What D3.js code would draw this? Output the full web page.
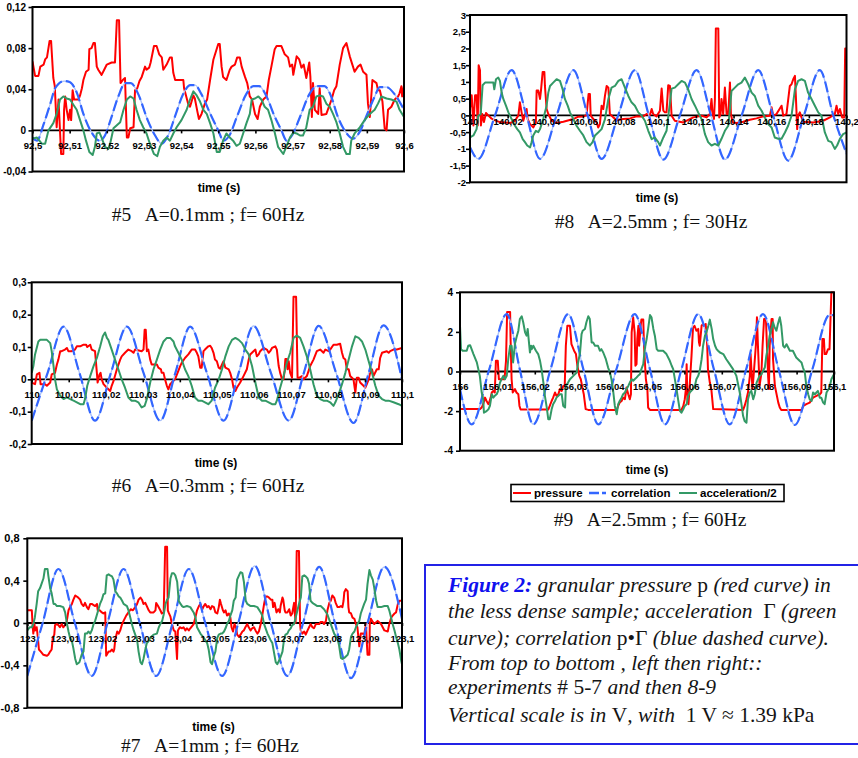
<!DOCTYPE html>
<html>
<head>
<meta charset="utf-8">
<script src="https://cdn.jsdelivr.net/npm/d3@7"></script>
<style>
  html, body { margin: 0; padding: 0; background: #fff; }
  svg { display: block; }
  text { white-space: pre; }
</style>
</head>
<body>
<svg id="fig" width="858" height="758"></svg>
<script>
// Each series point: [milliseconds after the window start, volts]

// ---------- #5  A=0.1mm ; f=60Hz  (92,5 s .. 92,6 s) ----------
const xLabels5 = ["92,5","92,51","92,52","92,53","92,54","92,55","92,56","92,57","92,58","92,59","92,6"];
const yTicks5 = [-0.04, 0, 0.04, 0.08, 0.12];
const yLabels5 = ["-0,04","0","0,04","0,08","0,12"];
const pressure5 = [[0,0.067],[0.7,0.053],[1.6,0.053],[2.1,0.062],[3.0,0.064],[3.4,0.069],[3.9,0.071],[4.6,0.087],[5.0,0.087],[5.2,0.075],[5.6,0.051],[6.0,0.043],[6.5,0.003],[7.0,0.030],[7.7,-0.023],[8.3,-0.023],[8.5,0.020],[8.8,0.033],[9.2,0.020],[9.7,0.010],[10.1,0.020],[10.4,0.010],[10.8,0.039],[11.2,0.030],[12.4,0.030],[12.8,0.034],[13.3,0.041],[13.7,0.049],[14.4,0.057],[15.1,0.059],[15.3,0.079],[15.9,0.080],[16.4,0.085],[16.8,0.085],[17.3,0.062],[17.7,0.059],[18.6,0.054],[19.3,0.059],[20.0,0.064],[21.3,0.066],[22.2,0.066],[22.7,0.107],[23.3,0.107],[23.7,0.046],[24.3,0.049],[24.9,0.051],[25.4,-0.007],[25.8,-0.007],[26.3,0.002],[27.2,0.003],[27.6,0.039],[28.2,0.041],[28.8,0.048],[29.4,0.052],[30.3,0.062],[30.7,0.059],[31.4,0.061],[31.8,0.066],[32.7,0.082],[33.4,0.082],[34.1,0.074],[34.8,0.071],[35.2,0.059],[36.1,0.064],[37.0,0.071],[37.5,0.071],[37.9,0.056],[38.4,0.049],[40.6,0.049],[40.8,0.041],[41.9,0.026],[42.4,0.023],[43.3,0.034],[43.7,0.031],[44.4,0.018],[44.8,0.011],[45.5,0.016],[46.4,0.026],[47.0,0.030],[47.8,0.049],[48.7,0.069],[50.0,0.084],[50.4,0.084],[50.9,0.062],[51.3,0.052],[52.2,0.049],[53.1,0.059],[53.6,0.062],[54.5,0.064],[55.1,0.071],[55.8,0.071],[56.3,0.062],[57.2,0.052],[57.8,0.046],[58.5,0.033],[59.1,0.030],[59.9,0.016],[60.6,0.011],[61.2,0.023],[62.1,0.030],[63.0,0.033],[63.6,0.049],[64.3,0.062],[65.2,0.079],[65.7,0.082],[67.0,0.082],[67.9,0.074],[68.8,0.071],[69.3,0.062],[69.9,0.064],[70.2,0.054],[70.6,0.062],[71.1,0.072],[71.8,0.069],[72.4,0.061],[73.0,0.064],[73.7,0.051],[74.5,0.066],[74.8,0.052],[75.2,0.013],[75.5,0.046],[76.0,0.020],[76.9,0.016],[77.3,0.041],[77.8,0.015],[79.1,0.016],[80.5,0.030],[81.2,0.039],[81.8,0.043],[82.7,0.064],[83.6,0.080],[84.5,0.085],[85.4,0.072],[86.1,0.064],[86.7,0.057],[87.6,0.062],[88.3,0.064],[89.0,0.057],[89.9,0.054],[90.3,0.026],[90.8,0.013],[91.5,0.049],[92.6,0.046],[93.0,0.039],[93.5,0.039],[94.2,0.028],[94.8,0.002],[95.3,0.0],[95.7,0.020],[96.6,0.023],[97.5,0.030],[98.4,0.033],[98.8,0.036],[99.3,0.043],[99.5,0.033],[100,0.043]];
const correlation5 = [[0,-0.007],[1.2,-0.01],[3.0,0.006],[4.8,0.026],[6.1,0.041],[8.5,0.048],[10.0,0.047],[12.0,0.036],[13.7,0.016],[15.9,-0.002],[18.0,-0.01],[19.5,-0.005],[21.0,0.01],[23.0,0.032],[25.0,0.046],[26.5,0.046],[28.5,0.035],[31.0,0.01],[33.0,-0.005],[34.8,-0.013],[36.5,-0.005],[38.5,0.015],[40.5,0.035],[42.5,0.044],[43.8,0.044],[45.5,0.035],[48.0,0.015],[50.0,0.0],[51.4,-0.01],[53.0,-0.005],[55.0,0.013],[57.5,0.035],[59.5,0.043],[61.0,0.043],[63.0,0.033],[65.0,0.015],[67.0,0.0],[68.4,-0.01],[70.0,-0.004],[72.0,0.013],[74.5,0.035],[76.5,0.043],[78.6,0.043],[80.5,0.032],[82.0,0.015],[84.0,0.0],[86.3,-0.008],[88.0,-0.002],[90.0,0.015],[92.0,0.032],[93.5,0.042],[95.3,0.042],[97.5,0.035],[100,0.02]];
const acceleration5 = [[0,-0.008],[1.2,-0.007],[2.5,-0.013],[3.4,-0.013],[4.3,0],[5.6,0.007],[6.5,0.016],[7.4,0.030],[8.3,0.033],[9.2,0.031],[10.1,0.030],[11.0,0.025],[11.9,0.020],[12.8,0.010],[13.7,0],[14.4,-0.010],[15.3,-0.021],[16.2,-0.024],[16.8,-0.016],[17.3,-0.003],[18.0,-0.002],[18.6,-0.007],[19.5,-0.016],[20.4,-0.018],[20.9,-0.013],[21.8,0.002],[22.7,0.005],[23.6,0.008],[24.5,0.020],[25.4,0.030],[26.3,0.033],[27.2,0.031],[28.0,0.020],[28.9,0.010],[29.8,0.003],[30.7,-0.003],[31.6,-0.013],[32.7,-0.023],[33.6,-0.025],[34.3,-0.016],[35.2,-0.010],[36.1,-0.007],[37.0,-0.010],[37.9,-0.003],[38.8,0.003],[40.1,0.010],[41.5,0.020],[42.4,0.030],[43.3,0.038],[44.2,0.034],[45.1,0.028],[46.0,0.020],[46.9,0.016],[47.8,0.007],[48.7,-0.003],[49.6,-0.021],[50.4,-0.021],[51.3,-0.010],[52.2,-0.003],[53.1,-0.007],[54.0,-0.010],[54.9,-0.015],[55.8,-0.013],[56.7,-0.003],[57.6,0.007],[58.5,0.016],[59.0,0.030],[59.9,0.031],[60.8,0.033],[61.6,0.030],[62.5,0.023],[63.4,0.020],[64.3,0.010],[65.2,-0.002],[66.1,-0.016],[67.5,-0.023],[68.4,-0.015],[69.3,-0.007],[70.2,-0.002],[71.1,-0.003],[72.0,-0.005],[72.8,-0.005],[73.7,0.003],[74.6,0.020],[75.5,0.023],[76.4,0.033],[77.3,0.034],[78.2,0.033],[79.1,0.026],[80.0,0.023],[80.9,0.016],[81.8,0.008],[82.7,-0.003],[83.6,-0.016],[84.5,-0.023],[85.4,-0.023],[85.8,-0.010],[86.7,-0.003],[88.1,0.003],[89.4,0.010],[90.8,0.016],[92.1,0.020],[93.0,0.026],[93.9,0.033],[95.3,0.031],[96.6,0.030],[98.0,0.028],[98.8,0.020],[100,0.013]];

// ---------- #8  A=2.5mm ; f=30Hz  (140 s .. 140,2 s) ----------
const xLabels8 = ["140","140,02","140,04","140,06","140,08","140,1","140,12","140,14","140,16","140,18","140,2"];
const yTicks8 = [-2, -1.5, -1, -0.5, 0, 0.5, 1, 1.5, 2, 2.5, 3];
const yLabels8 = ["-2","-1,5","-1","-0,5","0","0,5","1","1,5","2","2,5","3"];
const pressure8 = [[0,0.2],[0.9,0.6],[1.8,-0.3],[2.7,0.6],[3.5,0.6],[4.1,-0.3],[4.6,1.5],[5.3,1.35],[5.8,-0.3],[6.5,0.04],[7.4,-0.2],[8.5,0.07],[9.7,0],[11.5,-0.1],[13.3,-0.15],[15.9,-0.2],[21.2,-0.23],[23.9,-0.16],[25.7,0],[26.5,0.39],[27.4,0.09],[28.3,-0.16],[30.1,0.19],[30.6,-0.11],[31.9,-0.26],[33.6,-0.36],[35.0,-0.21],[35.4,0.74],[36.3,0.74],[37.2,0.49],[37.7,0.74],[38.6,1.3],[39.5,1.3],[39.8,0.88],[40.7,0.19],[41.6,0.04],[43.4,-0.16],[46.0,-0.23],[49.6,-0.19],[54.9,-0.11],[57.5,-0.04],[60.2,-0.03],[61.9,0],[63.0,0.64],[63.7,0.64],[64.1,0],[65.5,-0.11],[67.3,-0.21],[68.1,-0.36],[69.0,-0.26],[69.9,0.29],[70.8,0.19],[71.7,0.59],[72.6,0.88],[73.5,0.83],[74.3,0.04],[76.1,-0.06],[77.9,-0.14],[81.4,-0.11],[85.0,-0.09],[88.5,-0.03],[92.0,-0.03],[93.8,0.04],[95.6,0.01],[96.5,0.19],[97.3,0.04],[99.1,-0.03],[100.9,0.14],[101.8,0.8],[102.7,0.14],[103.5,0.09],[104.4,0.09],[105.3,0.9],[106.2,0.88],[107.1,-0.01],[108.8,-0.16],[113.3,-0.21],[118.6,-0.06],[123.0,-0.01],[125.7,-0.06],[127.4,0.04],[128.3,0.49],[128.8,0.09],[129.6,-0.11],[130.1,0.49],[130.6,2.6],[131.9,2.6],[132.4,-0.06],[133.1,0.04],[133.6,0.49],[134.5,0.04],[135.4,0.83],[136.3,0.04],[137.2,0.04],[138.1,0.98],[138.6,0.04],[139.5,-0.21],[141.6,-0.23],[145.1,-0.19],[148.7,-0.13],[152.2,-0.09],[155.8,-0.03],[159.3,-0.01],[160.2,0.24],[161.1,-0.01],[162.8,0.04],[165.5,0.29],[166.4,-0.01],[168.1,0.04],[169.9,0.88],[170.8,0.93],[171.7,1.08],[172.6,1.18],[173.1,0.58],[173.8,-0.41],[174.3,-0.01],[175.2,0.09],[176.1,-0.06],[177.0,-0.19],[182.3,-0.21],[187.6,-0.16],[191.2,-0.06],[193.8,0.04],[194.7,0.29],[195.6,0.04],[196.5,0.19],[197.7,-0.06],[198.8,-0.06],[199.3,2.0],[200,2.0]];
const correlation8 = [[0,-0.95],[4.4,-1.3],[13.3,0],[22.1,1.35],[30,0],[37.2,-1.3],[46,0],[54.9,1.35],[62.5,0],[69.9,-1.3],[78.7,0],[87.6,1.35],[95,0],[102.7,-1.32],[111.5,0],[120.4,1.35],[128,0],[135.4,-1.32],[144.3,0],[153.1,1.35],[161,0],[169,-1.35],[177.4,0],[185.8,1.35],[193,0],[200,-1.15]];
const acceleration8 = [[0,-0.66],[1.8,-0.6],[3.5,-0.41],[4.4,-0.01],[5.7,0.04],[6.7,0.9],[8.0,0.98],[10.6,0.98],[12.4,0.98],[12.9,0.78],[13.8,1.08],[15.0,1.13],[15.9,1.03],[16.8,0.68],[17.7,0.49],[19.1,0.29],[20.4,0.09],[22.1,-0.11],[23.9,-0.31],[25.1,-0.41],[26.5,-0.51],[28.0,-0.71],[29.2,-0.8],[30.4,-0.9],[31.9,-0.96],[32.7,-0.8],[33.6,-0.6],[35.0,-0.46],[36.3,-0.5],[37.2,-0.41],[38.9,-0.11],[40.7,0.29],[41.6,0.68],[42.5,0.88],[44.2,0.98],[46.0,1.08],[47.8,1.03],[49.2,0.78],[50.4,0.49],[51.9,0.29],[53.1,0.09],[54.9,-0.11],[56.6,-0.31],[58.4,-0.46],[60.2,-0.6],[61.9,-0.8],[63.7,-0.9],[65.1,-0.8],[66.4,-0.6],[68.1,-0.51],[69.9,-0.41],[71.7,-0.11],[73.5,0.49],[75.2,0.83],[77.0,0.88],[78.8,1.03],[80.5,1.08],[82.3,0.83],[84.1,0.58],[85.8,0.39],[87.6,0.29],[89.4,0.09],[91.2,-0.01],[92.9,-0.16],[94.7,-0.46],[96.5,-0.71],[98.2,-0.66],[100.0,-0.8],[100.9,-0.9],[102.7,-0.66],[104.4,-0.46],[105.8,0.19],[107.1,0.8],[108.8,0.83],[110.6,0.93],[112.4,1.03],[114.2,0.98],[115.9,0.78],[117.7,0.49],[119.5,0.29],[121.2,0.09],[123.0,-0.11],[124.8,-0.56],[126.5,-0.8],[128.3,-0.9],[130.1,-0.85],[131.9,-0.9],[133.6,-0.7],[135.4,-0.46],[137.2,-0.31],[138.1,0.19],[138.9,0.73],[140.7,0.83],[142.5,0.93],[144.2,0.98],[146.0,1.13],[147.8,0.93],[149.6,0.68],[151.3,0.58],[153.1,0.29],[154.9,0.14],[156.6,-0.06],[158.4,-0.26],[160.2,-0.36],[161.9,-0.66],[163.7,-0.7],[165.5,-0.7],[167.3,-0.51],[169.0,-0.31],[170.8,-0.01],[172.6,0.78],[174.3,1.03],[176.1,1.08],[177.9,1.03],[179.6,0.68],[181.4,0.49],[183.2,0.29],[185.0,0.09],[186.7,-0.01],[188.5,-0.51],[190.3,-0.76],[192.0,-0.8],[193.8,-1.0],[195.0,-0.9],[196.5,-0.7],[198.2,-0.56],[200,-0.51]];

// ---------- #6  A=0.3mm ; f=60Hz  (110 s .. 110,1 s) ----------
const xLabels6 = ["110","110,01","110,02","110,03","110,04","110,05","110,06","110,07","110,08","110,09","110,1"];
const yTicks6 = [-0.2, -0.1, 0, 0.1, 0.2, 0.3];
const yLabels6 = ["-0,2","-0,1","0","0,1","0,2","0,3"];
const pressure6 = [[0,-0.01],[0.9,-0.015],[1.4,0.015],[2.1,0.02],[2.4,-0.015],[3.6,-0.015],[4.1,-0.02],[5.0,-0.01],[5.4,0.015],[6.3,0.02],[6.8,0.046],[7.2,0.061],[7.7,0.087],[8.1,0.087],[9.0,0.092],[9.5,0.097],[9.9,0.087],[10.8,0.087],[11.7,0.092],[12.2,0.102],[13.1,0.102],[14.0,0.107],[14.7,0.107],[15.0,0.10],[15.8,0.107],[16.2,0.092],[17.1,0.087],[17.6,0.02],[17.8,-0.01],[18.3,0.015],[18.6,0.02],[18.9,0.0],[19.4,-0.015],[20.3,-0.026],[21.2,-0.036],[21.6,-0.02],[22.1,-0.005],[23.0,0.031],[23.9,0.061],[24.3,0.071],[25.2,0.082],[26.1,0.092],[27.0,0.087],[27.5,0.082],[27.9,0.092],[29.7,0.087],[30.2,0.092],[30.5,0.153],[30.8,0.153],[31.1,0.087],[31.5,0.092],[32.0,0.061],[32.4,0.046],[33.8,0.046],[34.2,0.036],[34.9,0.031],[35.1,0.02],[35.6,0.02],[36.0,0.0],[36.5,-0.02],[36.9,-0.031],[37.4,-0.015],[37.8,-0.01],[38.7,0.0],[39.6,0.026],[40.1,0.041],[40.5,0.051],[41.4,0.066],[42.3,0.077],[43.2,0.092],[44.1,0.092],[44.6,0.082],[45.0,0.071],[45.5,0.036],[45.9,0.036],[46.4,0.087],[46.8,0.092],[47.7,0.102],[48.2,0.104],[48.6,0.097],[49.1,0.082],[49.5,0.061],[50.0,0.056],[50.5,0.036],[50.9,0.033],[51.4,0.046],[51.8,0.056],[52.3,0.036],[53.2,0.031],[53.6,0.02],[54.1,0.0],[54.5,-0.026],[55.0,-0.036],[55.4,-0.026],[56.3,-0.01],[57.2,0.01],[58.1,0.031],[58.6,0.061],[59.0,0.077],[59.9,0.087],[60.4,0.092],[60.8,0.071],[61.3,0.077],[61.7,0.087],[62.6,0.097],[63.5,0.092],[64.0,0.082],[64.4,0.087],[64.9,0.097],[65.8,0.102],[66.2,0.092],[66.7,0.041],[67.1,0.02],[67.6,0.0],[68.0,0.0],[68.3,0.026],[68.5,0.063],[68.9,0.063],[69.1,0.031],[69.4,0.056],[69.8,0.02],[70.3,0.005],[70.7,0.255],[71.4,0.255],[71.8,0.005],[72.3,0.005],[73.0,0.01],[73.4,0.0],[74.3,0.01],[75.2,0.041],[76.1,0.061],[77.0,0.087],[77.9,0.092],[78.8,0.082],[79.3,0.092],[80.2,0.087],[80.6,0.092],[81.5,0.107],[82.4,0.107],[83.3,0.11],[83.8,0.082],[84.2,0.066],[84.7,0.061],[85.1,0.031],[85.6,0.031],[86.0,0.01],[86.9,0.0],[87.4,-0.041],[87.8,0.005],[88.3,0.005],[88.7,-0.01],[89.6,-0.02],[90.1,-0.026],[90.5,-0.015],[91.0,0.0],[91.4,0.02],[91.9,0.031],[92.3,0.01],[93.2,0.031],[93.7,0.031],[94.1,0.066],[94.6,0.082],[95.9,0.087],[96.4,0.082],[96.8,0.087],[97.7,0.092],[98.6,0.092],[100,0.097]];
const correlation6 = [[0,-0.128],[4.3,0.02],[8.6,0.163],[12.9,0.02],[17.1,-0.128],[21.4,0.02],[25.7,0.163],[30.2,0.02],[34.7,-0.128],[38.8,0.02],[42.8,0.163],[47.3,0.02],[51.8,-0.128],[55.9,0.02],[59.9,0.165],[64.6,0.02],[69.4,-0.128],[73.5,0.02],[77.5,0.165],[82.2,0.02],[86.9,-0.135],[91.0,0.02],[95.0,0.167],[100,0.0]];
const acceleration6 = [[0,0.02],[0.45,0.041],[0.9,0.077],[1.35,0.097],[1.8,0.117],[2.3,0.122],[4.1,0.122],[5.0,0.112],[5.4,0.087],[5.9,0.041],[6.3,0.0],[6.8,-0.031],[7.7,-0.051],[8.6,-0.061],[9.5,-0.056],[10.4,-0.061],[11.3,-0.066],[12.2,-0.071],[13.1,-0.077],[14.0,-0.077],[14.4,-0.061],[15.0,-0.02],[15.8,0.01],[16.7,0.041],[17.6,0.066],[18.5,0.102],[19.2,0.133],[19.8,0.145],[20.3,0.128],[20.7,0.122],[21.6,0.092],[22.5,0.061],[23.4,0.031],[24.3,0.0],[25.2,-0.026],[26.1,-0.056],[27.0,-0.066],[27.9,-0.066],[28.8,-0.071],[29.7,-0.087],[30.5,-0.082],[31.1,-0.061],[32.0,-0.01],[32.9,0.031],[33.8,0.061],[34.7,0.092],[35.6,0.117],[36.5,0.128],[37.4,0.128],[38.3,0.117],[38.7,0.102],[39.6,0.082],[40.5,0.061],[41.4,0.031],[42.3,0.01],[43.2,-0.02],[44.1,-0.056],[45.0,-0.066],[45.9,-0.066],[46.8,-0.071],[47.7,-0.077],[48.6,-0.066],[49.5,-0.026],[50.5,0.0],[51.4,0.031],[52.3,0.071],[53.2,0.102],[54.1,0.122],[55.0,0.128],[55.9,0.122],[56.8,0.112],[57.7,0.092],[58.6,0.077],[59.5,0.041],[60.4,-0.01],[61.3,-0.056],[62.2,-0.066],[63.1,-0.066],[64.0,-0.071],[64.9,-0.077],[65.8,-0.077],[66.2,-0.066],[67.1,-0.026],[68.0,0.01],[68.9,0.051],[69.8,0.082],[70.7,0.128],[71.6,0.135],[72.5,0.128],[73.4,0.102],[74.3,0.071],[75.2,0.031],[76.1,-0.015],[77.0,-0.051],[77.9,-0.061],[78.8,-0.066],[79.7,-0.066],[80.6,-0.071],[81.5,-0.082],[82.0,-0.071],[82.9,-0.046],[83.8,-0.015],[84.7,0.02],[85.6,0.061],[86.5,0.102],[87.4,0.133],[88.3,0.128],[89.2,0.117],[90.1,0.092],[91.0,0.056],[91.9,0.02],[92.8,-0.02],[93.7,-0.051],[94.6,-0.061],[95.5,-0.066],[96.4,-0.066],[97.7,-0.071],[99.1,-0.077],[100,-0.082]];

// ---------- #9  A=2.5mm ; f=60Hz  (156 s .. 156,1 s) ----------
const xLabels9 = ["156","156,01","156,02","156,03","156,04","156,05","156,06","156,07","156,08","156,09","156,1"];
const yTicks9 = [-4, -2, 0, 2, 4];
const yLabels9 = ["-4","-2","0","2","4"];
const pressure9 = [[0,-1.9],[5.3,-1.9],[5.8,-1.82],[6.2,-1.65],[6.7,-1.32],[7.1,-1.49],[7.6,-1.65],[7.8,-1.57],[8.2,-1.32],[8.5,-1.06],[8.9,-0.98],[9.3,-1.06],[9.6,0.54],[10.1,0.54],[10.4,-0.39],[11.9,-0.39],[12.3,0.54],[12.6,3.0],[13.4,3.0],[13.5,1.81],[13.8,-0.39],[14.1,-1.06],[14.7,-0.89],[15.1,-1.06],[15.6,-1.15],[15.9,-1.74],[16.2,-1.92],[23.6,-1.92],[24.0,-1.74],[24.5,-1.49],[24.9,-1.32],[25.4,-1.06],[25.8,-1.23],[26.3,-1.15],[26.7,-0.89],[27.2,-0.98],[27.6,-0.73],[28.0,-0.73],[28.3,1.30],[28.7,2.31],[29.4,2.31],[29.8,1.38],[30.5,1.05],[31.0,0.88],[31.4,0.29],[31.9,-0.22],[32.3,-0.39],[32.8,-0.89],[33.1,-1.15],[33.6,-1.9],[34.3,-1.94],[41.9,-1.94],[42.3,-1.74],[42.7,-1.57],[43.2,-1.49],[43.6,-1.32],[44.1,-1.4],[44.5,-0.81],[45.0,-1.15],[45.4,-1.40],[45.7,-1.15],[45.9,1.98],[46.3,2.74],[46.7,1.98],[46.9,0.29],[47.2,0.37],[47.4,1.64],[47.7,2.31],[47.9,1.30],[48.3,2.31],[48.5,2.62],[49.0,2.62],[49.2,1.30],[49.7,-0.39],[50.1,-0.89],[50.3,-1.82],[50.8,-1.94],[59.2,-1.94],[59.7,-1.74],[60.1,-1.4],[60.4,-0.89],[60.6,0.37],[60.8,-1.4],[61.1,-1.65],[61.4,-0.73],[61.9,0.79],[62.3,2.2],[62.7,2.31],[63.2,2.06],[63.7,2.15],[63.9,1.47],[64.1,1.30],[64.6,2.31],[65.0,2.4],[65.5,2.31],[65.7,2.4],[66.1,1.30],[66.3,0.12],[66.8,-0.56],[67.2,-0.89],[67.7,-1.9],[75.7,-1.94],[76.1,-1.74],[76.6,-1.4],[77.0,-1.06],[77.5,-0.22],[77.7,0.88],[78.2,-0.89],[78.5,-0.22],[79.1,1.30],[79.4,2.74],[79.7,1.13],[80.1,-0.73],[80.6,-0.05],[80.9,1.30],[81.3,2.65],[81.8,2.65],[82.1,1.13],[82.4,-0.3],[82.6,-0.89],[82.8,1.30],[83.3,2.65],[83.6,2.65],[83.7,0.62],[84.2,-0.73],[85.1,-1.57],[85.5,-1.82],[85.9,-1.94],[91.3,-1.94],[91.8,-1.74],[92.6,-1.65],[93.5,-1.57],[94.4,-1.32],[95.3,-1.23],[96.2,-1.15],[96.6,-1.06],[96.9,1.64],[97.3,1.64],[97.5,0.88],[97.9,0.88],[98.4,1.13],[98.8,1.13],[99.3,4.0],[100,4.0]];
const correlation9 = [[0,-0.9],[3.1,-2.67],[7.8,0.1],[12.5,2.9],[16,0.1],[19.6,-2.67],[24.2,0.1],[28.9,2.9],[33,0.1],[37,-2.67],[41.8,0.1],[46.7,2.9],[50.8,0.1],[54.8,-2.67],[59.2,0.1],[63.7,2.9],[67.9,0.1],[72.1,-2.67],[76.5,0.1],[81,2.9],[85.2,0.1],[89.5,-2.7],[94.2,0.1],[98.8,2.85],[100,2.85]];
const acceleration9 = [[0,2.31],[0.27,1.13],[0.7,1.05],[1.8,1.05],[2.2,1.30],[2.7,1.33],[3.1,1.13],[3.6,0.88],[4.5,0.46],[4.9,0.12],[5.3,-0.22],[5.8,-1.06],[6.2,-1.40],[6.4,-2.08],[7.1,-2.0],[7.6,-1.91],[8.0,-1.74],[8.5,-1.15],[8.9,-1.32],[9.3,-1.23],[9.8,-1.15],[10.2,-0.98],[10.7,-0.56],[11.1,-0.39],[11.6,-0.22],[12.0,-0.39],[12.5,-0.22],[12.9,0.62],[13.4,1.30],[13.8,1.30],[14.2,0.46],[14.7,1.40],[15.1,1.72],[15.6,2.06],[16.0,2.65],[16.5,2.79],[16.9,2.49],[17.4,1.98],[17.8,1.81],[18.1,2.15],[18.4,1.55],[18.7,0.96],[19.0,1.30],[19.2,1.13],[19.6,1.30],[20.3,1.05],[20.9,0.88],[21.4,0.54],[21.8,0.12],[22.3,-0.56],[22.7,-1.23],[23.2,-1.82],[23.6,-2.41],[24.0,-2.41],[24.5,-1.91],[24.9,-1.65],[25.4,-1.49],[25.8,-1.32],[26.3,-1.23],[26.7,-1.15],[27.2,-1.15],[27.6,-1.74],[28.1,-1.82],[28.3,-0.73],[28.9,-0.56],[29.4,-0.39],[30.3,-0.22],[31.2,-0.05],[31.6,0.46],[32.1,0.96],[32.5,1.89],[32.8,2.06],[33.4,2.15],[33.8,2.49],[34.3,2.79],[34.7,2.65],[35.2,1.47],[35.6,1.47],[36.1,1.30],[36.9,1.30],[37.4,1.05],[37.8,1.13],[38.3,0.96],[39.0,0.62],[39.6,0.20],[40.1,-0.05],[40.5,-0.39],[41.0,-1.06],[41.4,-1.74],[41.9,-2.16],[42.3,-1.65],[42.7,-1.49],[43.2,-1.32],[43.6,-1.15],[44.1,-1.06],[44.5,-0.89],[45.0,-0.73],[45.4,-0.56],[45.9,-0.39],[46.3,-0.47],[46.7,-0.39],[47.2,-0.30],[47.6,-0.22],[48.1,-0.14],[48.5,0.12],[49.0,0.37],[49.4,1.13],[49.9,1.64],[50.3,2.15],[50.8,2.85],[51.2,2.74],[51.7,2.15],[52.1,1.81],[52.6,1.13],[53.0,1.05],[54.3,1.05],[55.2,0.88],[56.1,0.54],[56.6,0.29],[57.0,0.12],[57.9,-0.89],[58.3,-1.40],[58.8,-1.99],[59.2,-2.08],[59.7,-1.91],[60.1,-1.74],[60.6,-1.65],[61.0,-1.23],[61.4,-1.06],[62.3,-0.89],[62.8,-0.73],[63.2,-0.39],[63.7,-0.22],[64.1,0.03],[64.6,0.62],[65.0,1.30],[65.5,1.81],[65.9,1.98],[66.4,2.31],[66.8,2.62],[67.3,2.15],[67.7,1.64],[68.2,1.30],[68.6,1.13],[69.0,1.05],[69.5,0.96],[70.4,0.88],[71.2,0.62],[72.1,0.37],[73.0,0.12],[73.9,-0.22],[74.8,-1.06],[75.2,-1.57],[75.7,-2.25],[76.1,-2.5],[76.6,-2.59],[77.0,-1.40],[77.5,-1.06],[77.9,-0.98],[78.4,-1.40],[78.8,-1.15],[79.3,-0.56],[79.7,-0.39],[80.1,-0.22],[80.6,-0.14],[81.0,0.03],[81.5,0.20],[81.9,0.79],[82.4,1.30],[82.8,1.81],[83.3,2.15],[83.7,2.49],[84.1,2.24],[84.6,2.06],[85.0,2.40],[85.5,2.74],[85.9,2.31],[86.4,1.30],[86.8,1.21],[87.3,1.38],[88.2,1.05],[89.0,1.05],[89.9,0.71],[90.8,0.54],[91.3,0.46],[91.7,0.20],[92.2,-0.05],[92.6,-0.73],[93.1,-1.15],[93.5,-1.40],[94.0,-1.49],[94.4,-1.06],[94.9,-1.15],[95.3,-1.06],[95.7,-0.98],[96.2,-1.32],[96.6,-1.32],[97.1,-1.57],[97.5,-1.65],[98.0,-1.06],[98.8,-0.81],[99.3,-0.39],[100,-0.14]];

// ---------- #7  A=1mm ; f=60Hz  (123 s .. 123,1 s) ----------
const xLabels7 = ["123","123,01","123,02","123,03","123,04","123,05","123,06","123,07","123,08","123,09","123,1"];
const yTicks7 = [-0.8, -0.4, 0, 0.4, 0.8];
const yLabels7 = ["-0,8","-0,4","0","0,4","0,8"];
const pressure7 = [[0,0.12],[0.7,0.12],[1.2,0.12],[1.4,-0.01],[1.6,-0.1],[1.9,-0.01],[2.1,-0.07],[2.5,-0.04],[2.8,-0.13],[3.1,-0.25],[3.6,-0.27],[4.3,-0.3],[5.2,-0.31],[5.6,-0.3],[6.1,-0.27],[6.5,-0.25],[6.8,-0.14],[7.2,-0.11],[7.4,-0.02],[7.9,-0.01],[8.3,-0.02],[8.7,-0.04],[9.2,-0.01],[9.6,-0.04],[10.1,-0.02],[10.5,0.01],[11.0,0.12],[11.4,0.15],[11.9,0.18],[12.3,0.22],[12.8,0.26],[13.2,0.25],[13.6,0.24],[14.1,0.22],[14.5,0.18],[15.0,0.16],[15.4,0.19],[15.9,0.15],[16.3,0.13],[16.8,0.18],[17.2,0.18],[18.1,0.16],[18.6,0.18],[18.8,0.12],[19.3,0.12],[19.9,0.1],[20.3,0.09],[20.8,0.1],[21.05,-0.31],[21.7,-0.27],[22.1,-0.27],[22.6,-0.25],[23.0,-0.27],[23.2,-0.25],[23.5,-0.15],[24.0,-0.08],[24.4,-0.1],[24.8,-0.07],[25.3,-0.01],[25.7,0.02],[26.4,0.07],[27.0,0.1],[27.6,0.13],[28.2,0.12],[28.8,0.15],[29.3,0.18],[29.7,0.22],[30.2,0.24],[30.6,0.22],[31.0,0.18],[31.5,0.19],[31.9,0.16],[32.4,0.12],[32.8,0.10],[33.7,0.10],[34.2,0.12],[34.4,0.19],[34.9,0.16],[35.5,0.12],[35.9,0.09],[36.4,0.10],[36.8,0.72],[37.3,0.72],[37.5,0.12],[37.7,0.10],[38.2,0.06],[38.6,-0.01],[39.1,-0.07],[39.5,-0.08],[39.96,-0.34],[40.2,-0.07],[40.7,-0.04],[41.3,-0.05],[41.7,-0.04],[42.2,-0.07],[42.6,-0.05],[43.1,-0.07],[43.5,-0.05],[44.4,-0.01],[44.9,0.06],[45.3,0.12],[45.8,0.16],[46.2,0.18],[46.7,0.13],[47.1,0.16],[47.5,0.18],[48.0,0.15],[48.4,0.16],[48.9,0.13],[49.3,0.16],[49.8,0.15],[50.2,0.10],[50.7,0.09],[51.1,0.15],[51.4,0.22],[51.7,0.18],[52.2,0.12],[52.5,0.10],[52.9,0.12],[53.3,0.07],[53.8,0.09],[54.2,0.05],[54.5,-0.04],[54.9,-0.08],[55.3,-0.01],[55.7,-0.04],[56.0,-0.11],[56.5,-0.13],[56.9,-0.11],[57.4,-0.08],[57.8,-0.07],[58.2,-0.04],[58.7,-0.01],[59.1,-0.04],[59.6,-0.07],[60.0,-0.05],[60.5,-0.04],[60.9,-0.07],[61.4,-0.10],[61.8,-0.08],[62.3,-0.01],[62.7,0.07],[63.2,0.18],[63.6,0.25],[64.1,0.25],[64.5,0.24],[65.0,0.22],[65.4,0.22],[65.6,0.15],[66.0,0.19],[66.5,0.10],[66.98,0.13],[67.4,0.10],[67.6,0.16],[68.1,0.24],[68.3,0.22],[68.7,0.12],[68.9,0.10],[69.4,0.10],[69.9,0.13],[70.3,0.07],[70.7,0.09],[71.2,0.19],[71.6,0.0],[71.9,0.68],[72.5,0.68],[72.8,-0.01],[72.97,-0.07],[73.4,-0.10],[73.9,-0.08],[74.3,-0.11],[74.8,-0.07],[75.2,-0.04],[75.6,-0.01],[76.1,-0.04],[76.5,-0.05],[77.0,-0.01],[77.9,-0.01],[78.3,0.01],[78.8,0.01],[79.2,-0.01],[79.7,0.02],[80.1,0.12],[80.6,0.19],[81.0,0.21],[81.4,0.26],[81.9,0.24],[82.3,0.19],[82.8,0.15],[83.2,0.15],[83.7,0.16],[84.1,0.15],[84.4,0.21],[84.6,0.29],[85.0,0.32],[85.5,0.3],[85.7,0.15],[85.9,0.10],[86.4,0.09],[86.8,0.05],[87.3,0.04],[87.7,-0.01],[88.1,-0.04],[88.6,-0.22],[89.0,-0.10],[89.5,-0.10],[89.9,-0.11],[90.4,-0.01],[90.6,-0.18],[90.8,-0.30],[91.3,-0.30],[91.4,-0.01],[91.7,0.04],[92.2,0.01],[92.6,-0.01],[93.5,0.02],[94.4,-0.01],[95.3,-0.07],[96.2,-0.08],[96.6,-0.01],[97.1,0.05],[97.5,0.07],[98.0,0.09],[98.4,0.10],[98.9,0.18],[99.3,0.21],[100,0.21]];
const correlation7 = [[0,-0.5],[4.1,0.0],[8.3,0.51],[12.7,0.0],[17.2,-0.5],[21.4,0.0],[25.7,0.51],[30,0.0],[34.4,-0.5],[38.8,0.0],[43.1,0.51],[47.5,0.0],[52,-0.5],[56.3,0.0],[60.7,0.54],[65,0.0],[69.4,-0.5],[73.6,0.0],[77.9,0.53],[82.1,0.0],[86.4,-0.52],[90.8,0.0],[95.3,0.53],[100,0.04]];
const acceleration7 = [[0,-0.07],[0.7,-0.04],[1.2,-0.04],[1.6,-0.01],[2.0,0.05],[2.5,0.18],[2.9,0.30],[3.4,0.33],[3.8,0.37],[4.3,0.42],[4.7,0.51],[5.4,0.51],[5.6,0.45],[6.1,0.33],[6.5,0.28],[7.0,0.18],[7.4,0.18],[7.9,0.16],[8.7,0.16],[9.6,0.15],[10.1,0.10],[10.5,0.01],[11.0,-0.08],[11.4,-0.14],[11.9,-0.17],[12.3,-0.24],[12.8,-0.34],[13.2,-0.39],[13.9,-0.37],[14.5,-0.30],[15.0,-0.27],[15.4,-0.10],[15.9,-0.10],[16.3,-0.08],[16.8,-0.10],[17.2,-0.07],[17.7,-0.01],[18.1,0.02],[18.6,0.08],[19.0,0.13],[19.4,0.18],[19.9,0.22],[20.3,0.27],[20.8,0.28],[21.2,0.45],[21.7,0.46],[22.1,0.45],[22.6,0.44],[23.0,0.41],[23.5,0.30],[23.9,0.28],[24.4,0.25],[24.8,0.24],[25.3,0.21],[25.7,0.18],[26.6,0.16],[27.0,0.12],[27.5,0.05],[27.9,-0.01],[28.4,-0.07],[29.3,-0.16],[29.7,-0.27],[30.2,-0.37],[30.6,-0.39],[31.0,-0.34],[31.5,-0.25],[31.9,-0.19],[32.4,-0.17],[32.8,-0.14],[33.7,-0.11],[34.6,-0.10],[35.1,-0.04],[35.5,-0.01],[36.0,0.02],[36.4,0.08],[36.9,0.18],[37.3,0.22],[37.7,0.24],[38.2,0.42],[38.6,0.47],[39.1,0.47],[39.5,0.45],[40.0,0.39],[40.4,0.21],[40.9,0.18],[41.3,0.16],[41.7,0.15],[42.6,0.16],[43.5,0.15],[44.4,0.10],[44.9,0.05],[45.3,-0.04],[46.2,-0.10],[47.1,-0.14],[48.0,-0.19],[48.4,-0.25],[48.9,-0.37],[49.3,-0.39],[49.8,-0.31],[50.2,-0.27],[50.7,-0.14],[51.1,-0.11],[51.6,-0.10],[52.0,-0.10],[52.5,-0.08],[52.9,-0.05],[53.3,-0.01],[53.8,0.02],[54.2,0.07],[54.7,0.12],[55.1,0.21],[55.6,0.24],[56.0,0.41],[56.5,0.45],[56.9,0.48],[57.4,0.47],[57.8,0.39],[58.3,0.21],[58.7,0.18],[59.6,0.16],[60.5,0.16],[61.4,0.15],[62.3,0.10],[62.7,0.07],[63.2,-0.01],[64.1,-0.10],[64.9,-0.16],[65.4,-0.19],[65.8,-0.27],[66.3,-0.37],[66.7,-0.39],[67.4,-0.34],[68.1,-0.27],[68.5,-0.16],[68.9,-0.11],[69.4,-0.10],[69.8,-0.07],[70.3,-0.05],[70.7,-0.02],[71.2,-0.01],[71.6,0.05],[72.1,0.12],[72.5,0.18],[73.0,0.24],[73.4,0.44],[73.9,0.45],[74.3,0.44],[74.8,0.42],[75.2,0.37],[75.6,0.21],[76.1,0.19],[76.5,0.18],[77.4,0.16],[78.3,0.16],[79.2,0.13],[80.1,0.08],[81.0,-0.01],[81.9,-0.10],[82.8,-0.15],[83.2,-0.21],[83.7,-0.33],[84.1,-0.34],[84.6,-0.33],[85.5,-0.30],[85.9,-0.25],[86.4,-0.13],[86.8,-0.10],[87.3,-0.08],[87.7,-0.04],[88.1,-0.01],[88.6,0.02],[89.0,0.09],[89.5,0.14],[89.9,0.18],[90.4,0.22],[90.8,0.37],[91.3,0.50],[91.7,0.45],[92.2,0.41],[92.6,0.33],[93.1,0.21],[93.5,0.15],[94.4,0.15],[95.3,0.16],[96.2,0.16],[96.6,0.12],[97.1,0.05],[97.5,-0.01],[98.0,-0.07],[98.4,-0.13],[98.9,-0.19],[99.3,-0.25],[99.8,-0.36],[100,-0.39]];

const legendLabels = ["pressure", "correlation", "acceleration/2"];

// ---------- drawing ----------
const svg = d3.select("#fig");
const RED = "#ff0000", BLUE = "#3366ff", BLUE_LIGHT = "#a9c0fa", GREEN = "#339966";
const SANS = "'Liberation Sans', Arial, sans-serif";
const SERIF = "'Liberation Serif', 'Times New Roman', serif";

const panels = [
  { key: "5", left: 32.5, right: 404, top: 7, bottom: 171.5, span: 100, yDomain: [-0.04, 0.12],
    yTicks: yTicks5, yLabels: yLabels5, xLabels: xLabels5, pressure: pressure5, correlation: correlation5, acceleration: acceleration5,
    xLabelOffset: 18.5, yLabelEnd: 26, yFont: 10, timeX: 219, timeY: 192,
    caption: "#5   A=0.1mm ; f= 60Hz", capX: 208, capY: 221 },
  { key: "8", left: 470, right: 846.5, top: 15, bottom: 182.3, span: 200, yDomain: [-2, 3],
    yTicks: yTicks8, yLabels: yLabels8, xLabels: xLabels8, pressure: pressure8, correlation: correlation8, acceleration: acceleration8,
    xLabelOffset: 9.5, yLabelEnd: 466, yFont: 9.5, timeX: 657, timeY: 202,
    caption: "#8   A=2.5mm ; f= 30Hz", capX: 651, capY: 228 },
  { key: "6", left: 31.7, right: 402, top: 282.3, bottom: 444, span: 100, yDomain: [-0.2, 0.3],
    yTicks: yTicks6, yLabels: yLabels6, xLabels: xLabels6, pressure: pressure6, correlation: correlation6, acceleration: acceleration6,
    xLabelOffset: 18.5, yLabelEnd: 26.5, yFont: 10, timeX: 216, timeY: 467,
    caption: "#6   A=0.3mm ; f= 60Hz", capX: 208, capY: 492 },
  { key: "9", left: 460, right: 834, top: 292.3, bottom: 450.7, span: 100, yDomain: [-4, 4],
    yTicks: yTicks9, yLabels: yLabels9, xLabels: xLabels9, pressure: pressure9, correlation: correlation9, acceleration: acceleration9,
    xLabelOffset: 18.5, yLabelEnd: 453, yFont: 10, timeX: 647, timeY: 474,
    caption: "#9   A=2.5mm ; f= 60Hz", capX: 650, capY: 526 },
  { key: "7", left: 27.3, right: 402, top: 538.3, bottom: 707.7, span: 100, yDomain: [-0.8, 0.8],
    yTicks: yTicks7, yLabels: yLabels7, xLabels: xLabels7, pressure: pressure7, correlation: correlation7, acceleration: acceleration7,
    xLabelOffset: 19, yLabelEnd: 19.5, yFont: 11, timeX: 213.5, timeY: 731,
    caption: "#7   A=1mm ; f= 60Hz", capX: 210, capY: 752 }
];

function drawPanel(p) {
  const g = svg.append("g").attr("class", "panel-" + p.key);
  const x = d3.scaleLinear().domain([0, p.span]).range([p.left, p.right]);
  const y = d3.scaleLinear().domain(p.yDomain).range([p.bottom, p.top]);
  const y0 = y(0);

  const clipId = "clip" + p.key;
  g.append("clipPath").attr("id", clipId).append("rect")
    .attr("x", p.left).attr("y", p.top - 1)
    .attr("width", p.right - p.left).attr("height", p.bottom - p.top + 2);

  // zero line
  g.append("line").attr("x1", p.left).attr("x2", p.right).attr("y1", y0).attr("y2", y0)
    .attr("stroke", "#000").attr("stroke-width", 1.8);

  const straight = d3.line().x(d => x(d[0])).y(d => y(d[1]));
  const smooth = d3.line().x(d => x(d[0])).y(d => y(d[1])).curve(d3.curveMonotoneX);

  const plot = g.append("g").attr("clip-path", `url(#${clipId})`);
  plot.append("path").datum(p.pressure).attr("d", straight)
    .attr("fill", "none").attr("stroke", RED).attr("stroke-width", 2).attr("stroke-linejoin", "round");
  plot.append("path").datum(p.correlation).attr("d", smooth)
    .attr("fill", "none").attr("stroke", BLUE_LIGHT).attr("stroke-width", 1.3);
  plot.append("path").datum(p.correlation).attr("d", smooth)
    .attr("fill", "none").attr("stroke", BLUE).attr("stroke-width", 2.2).attr("stroke-dasharray", "11,4");
  plot.append("path").datum(p.acceleration).attr("d", straight)
    .attr("fill", "none").attr("stroke", GREEN).attr("stroke-width", 2).attr("stroke-linejoin", "round");

  // plot frame
  g.append("rect").attr("x", p.left).attr("y", p.top)
    .attr("width", p.right - p.left).attr("height", p.bottom - p.top)
    .attr("fill", "none").attr("stroke", "#000").attr("stroke-width", 2);

  // value axis
  const yAxis = d3.axisLeft(y).tickValues(p.yTicks)
    .tickFormat((d, i) => p.yLabels[i]).tickSize(4).tickPadding(p.left - p.yLabelEnd - 4);
  const ya = g.append("g").attr("transform", `translate(${p.left},0)`).call(yAxis);
  ya.select(".domain").remove();
  ya.selectAll("line").attr("stroke", "#000").attr("stroke-width", 1.6);
  ya.selectAll("text").attr("fill", "#000")
    .style("font-family", SANS).style("font-weight", "bold").style("font-size", p.yFont + "px");

  // time axis on the zero line
  const ticks = d3.range(p.xLabels.length).map(i => i * p.span / (p.xLabels.length - 1));
  const xAxis = d3.axisBottom(x).tickValues(ticks)
    .tickFormat((d, i) => p.xLabels[i]).tickSize(3).tickPadding(0);
  const xa = g.append("g").attr("transform", `translate(0,${y0})`).call(xAxis);
  xa.select(".domain").remove();
  xa.selectAll("line").attr("stroke", "#000").attr("stroke-width", 1.6);
  xa.selectAll("text").attr("fill", "#000").attr("dy", null)
    .attr("y", p.xLabelOffset)
    .style("font-family", SANS).style("font-weight", "bold").style("font-size", "9.5px");

  g.append("text").attr("x", p.timeX).attr("y", p.timeY).attr("text-anchor", "middle")
    .style("font-family", SANS).style("font-weight", "bold").style("font-size", "12px")
    .text("time (s)");

  g.append("text").attr("x", p.capX).attr("y", p.capY).attr("text-anchor", "middle")
    .style("font-family", SERIF).style("font-size", "19.5px").attr("fill", "#111")
    .text(p.caption);
}

panels.forEach(drawPanel);

// legend under panel #9
const legend = svg.append("g");
legend.append("rect").attr("x", 511).attr("y", 484.5).attr("width", 273).attr("height", 17)
  .attr("fill", "#fff").attr("stroke", "#000").attr("stroke-width", 1.6);
const legendItems = [
  { x0: 513, x1: 531, tx: 534, color: RED, dash: null },
  { x0: 589, x1: 606, tx: 611, color: BLUE, dash: "10,3" },
  { x0: 679, x1: 697, tx: 700, color: GREEN, dash: null }
];
legendItems.forEach((it, i) => {
  legend.append("line").attr("x1", it.x0).attr("x2", it.x1).attr("y1", 493).attr("y2", 493)
    .attr("stroke", it.color).attr("stroke-width", it.dash ? 2.6 : 2)
    .attr("stroke-dasharray", it.dash);
  legend.append("text").attr("x", it.tx).attr("y", 497.3)
    .style("font-family", SANS).style("font-weight", "bold").style("font-size", "11.5px")
    .text(legendLabels[i]);
});

// figure caption box
const note = svg.append("g");
note.append("rect").attr("x", 425).attr("y", 565).attr("width", 460).attr("height", 179)
  .attr("fill", "#fff").attr("stroke", "#2323e6").attr("stroke-width", 2);
const noteLines = [
  { y: 591.5, parts: [["Figure 2:", "fig"], [" granular pressure ", "it"], ["p", "up"], [" (red curve) in", "it"]] },
  { y: 618, parts: [["the less dense sample; acceleration  ", "it"], ["Γ", "up"], [" (green", "it"]] },
  { y: 644.5, parts: [["curve); correlation ", "it"], ["p•Γ", "up"], [" (blue dashed curve).", "it"]] },
  { y: 670, parts: [["From top to bottom , left then right::", "it"]] },
  { y: 693.5, parts: [["experiments ", "it"], ["# 5-7", "up"], [" and then 8-9", "it"]] },
  { y: 721.5, parts: [["Vertical scale is in ", "it"], ["V", "up"], [", with  ", "it"], ["1 V ≈ 1.39 kPa", "up"]] }
];
noteLines.forEach(line => {
  const t = note.append("text").attr("x", 448).attr("y", line.y)
    .style("font-family", SERIF).style("font-size", "21.5px").attr("fill", "#151515");
  line.parts.forEach(([s, kind]) => {
    const ts = t.append("tspan").text(s);
    if (kind === "fig") ts.style("font-style", "italic").style("font-weight", "bold").attr("fill", "#1010ee");
    else if (kind === "it") ts.style("font-style", "italic");
  });
});
</script>
</body>
</html>
